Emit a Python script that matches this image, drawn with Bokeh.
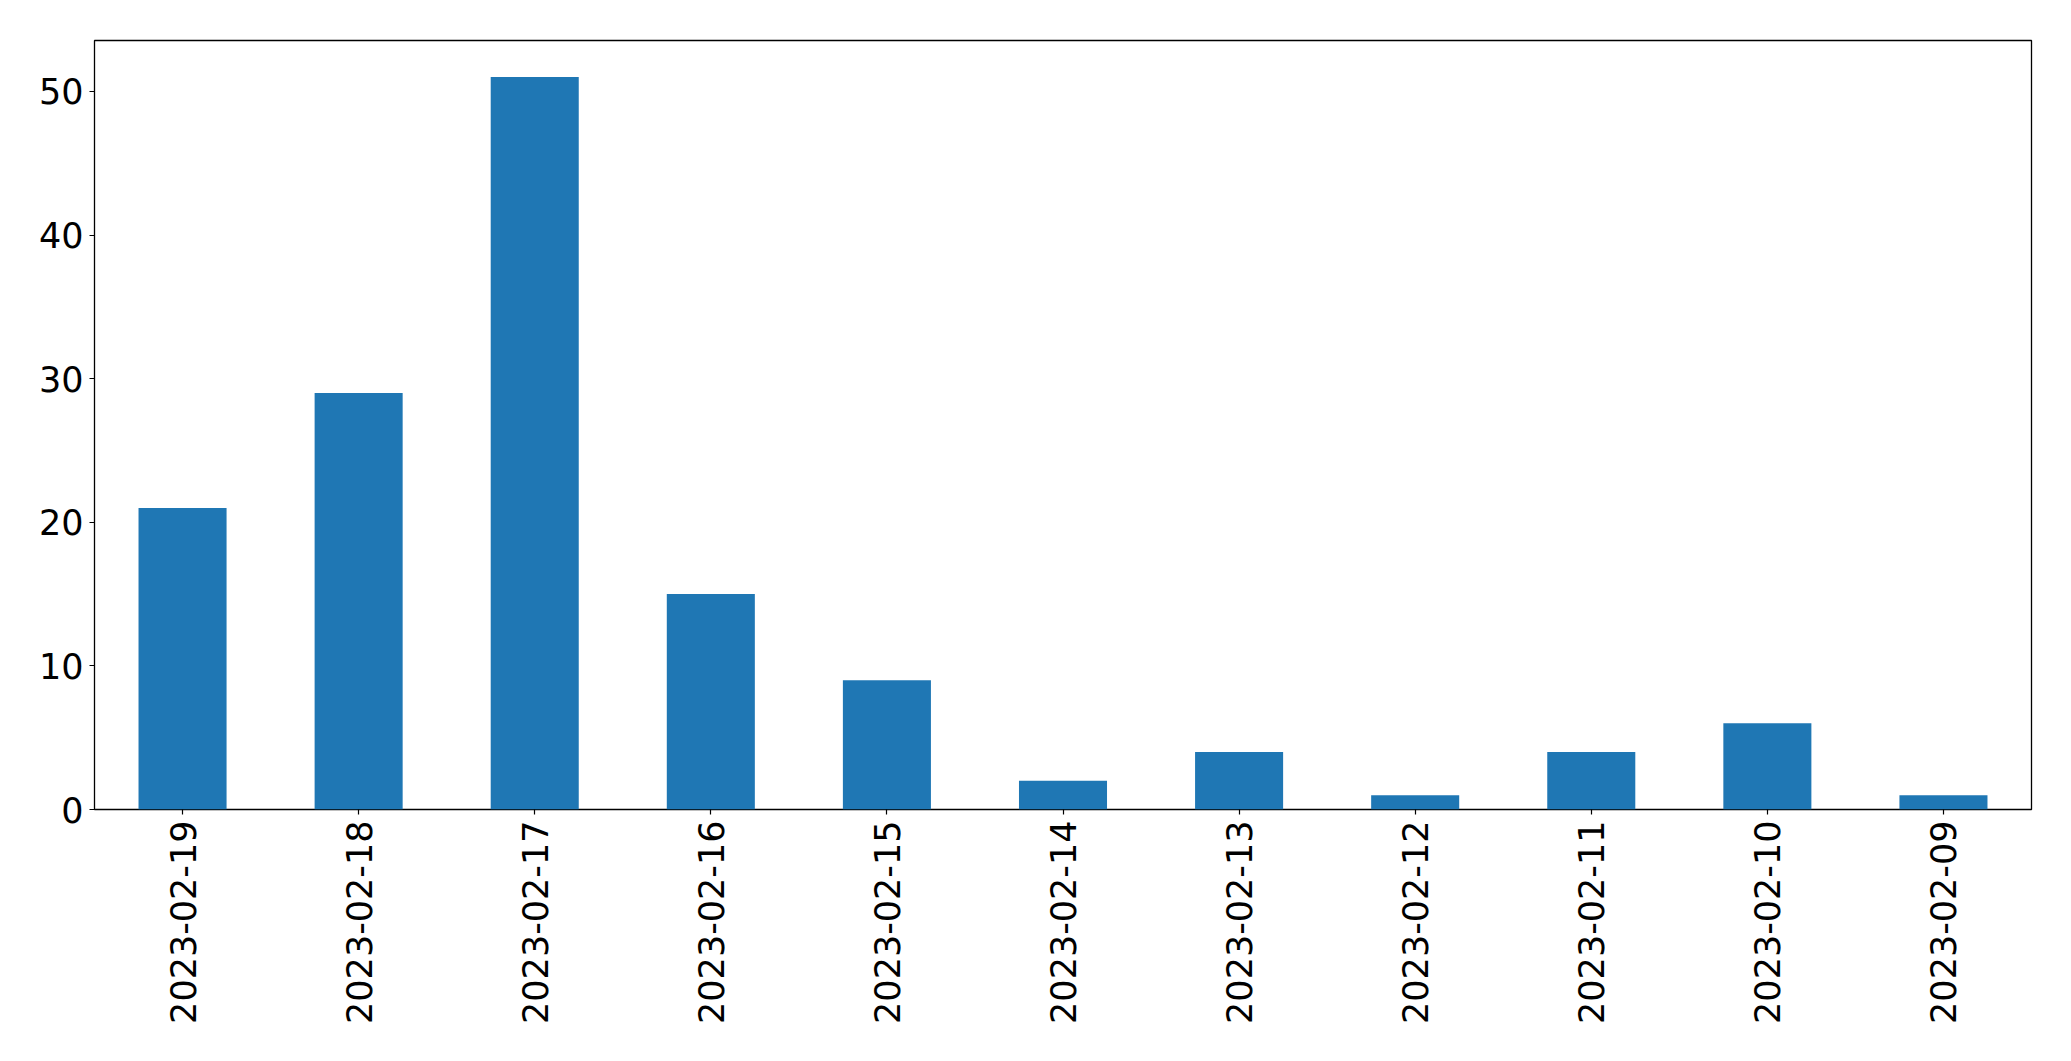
import math
from bokeh.plotting import figure
from bokeh.models import FactorRange, Range1d, FixedTicker, ColumnDataSource
from bokeh.embed import file_html
from bokeh.resources import INLINE

dates = ["2023-02-19", "2023-02-18", "2023-02-17", "2023-02-16", "2023-02-15",
         "2023-02-14", "2023-02-13", "2023-02-12", "2023-02-11", "2023-02-10",
         "2023-02-09"]
counts = [21, 29, 51, 15, 9, 2, 4, 1, 4, 6, 1]
y_ticks = [0, 10, 20, 30, 40, 50]

src = ColumnDataSource(dict(x=dates, top=counts))

p = figure(width=2055, height=1045, output_backend="svg", toolbar_location=None,
           x_range=FactorRange(factors=dates, range_padding=0),
           y_range=Range1d(0, max(counts) * 1.05),
           min_border_left=94, min_border_right=24, min_border_top=40,
           min_border_bottom=236)

p.vbar(x="x", top="top", width=0.5, source=src, color="#1f77b4", line_color=None)

p.xgrid.visible = False
p.ygrid.visible = False
p.outline_line_color = "black"
p.outline_line_width = 1.3
p.background_fill_color = "white"
p.border_fill_color = "white"

p.yaxis.ticker = FixedTicker(ticks=y_ticks)
for ax in (p.xaxis[0], p.yaxis[0]):
    ax.axis_line_color = None
    ax.major_tick_line_color = "black"
    ax.major_tick_line_width = 1.2
    ax.major_tick_out = 5
    ax.major_tick_in = 0
    ax.minor_tick_line_color = None
    ax.major_label_text_font = "DejaVu Sans"
    ax.major_label_text_font_size = "35px"
    ax.major_label_text_color = "black"
    ax.major_label_standoff = 6
p.xaxis.major_label_orientation = math.pi / 2

open("out.html", "w").write(file_html(p, INLINE))
